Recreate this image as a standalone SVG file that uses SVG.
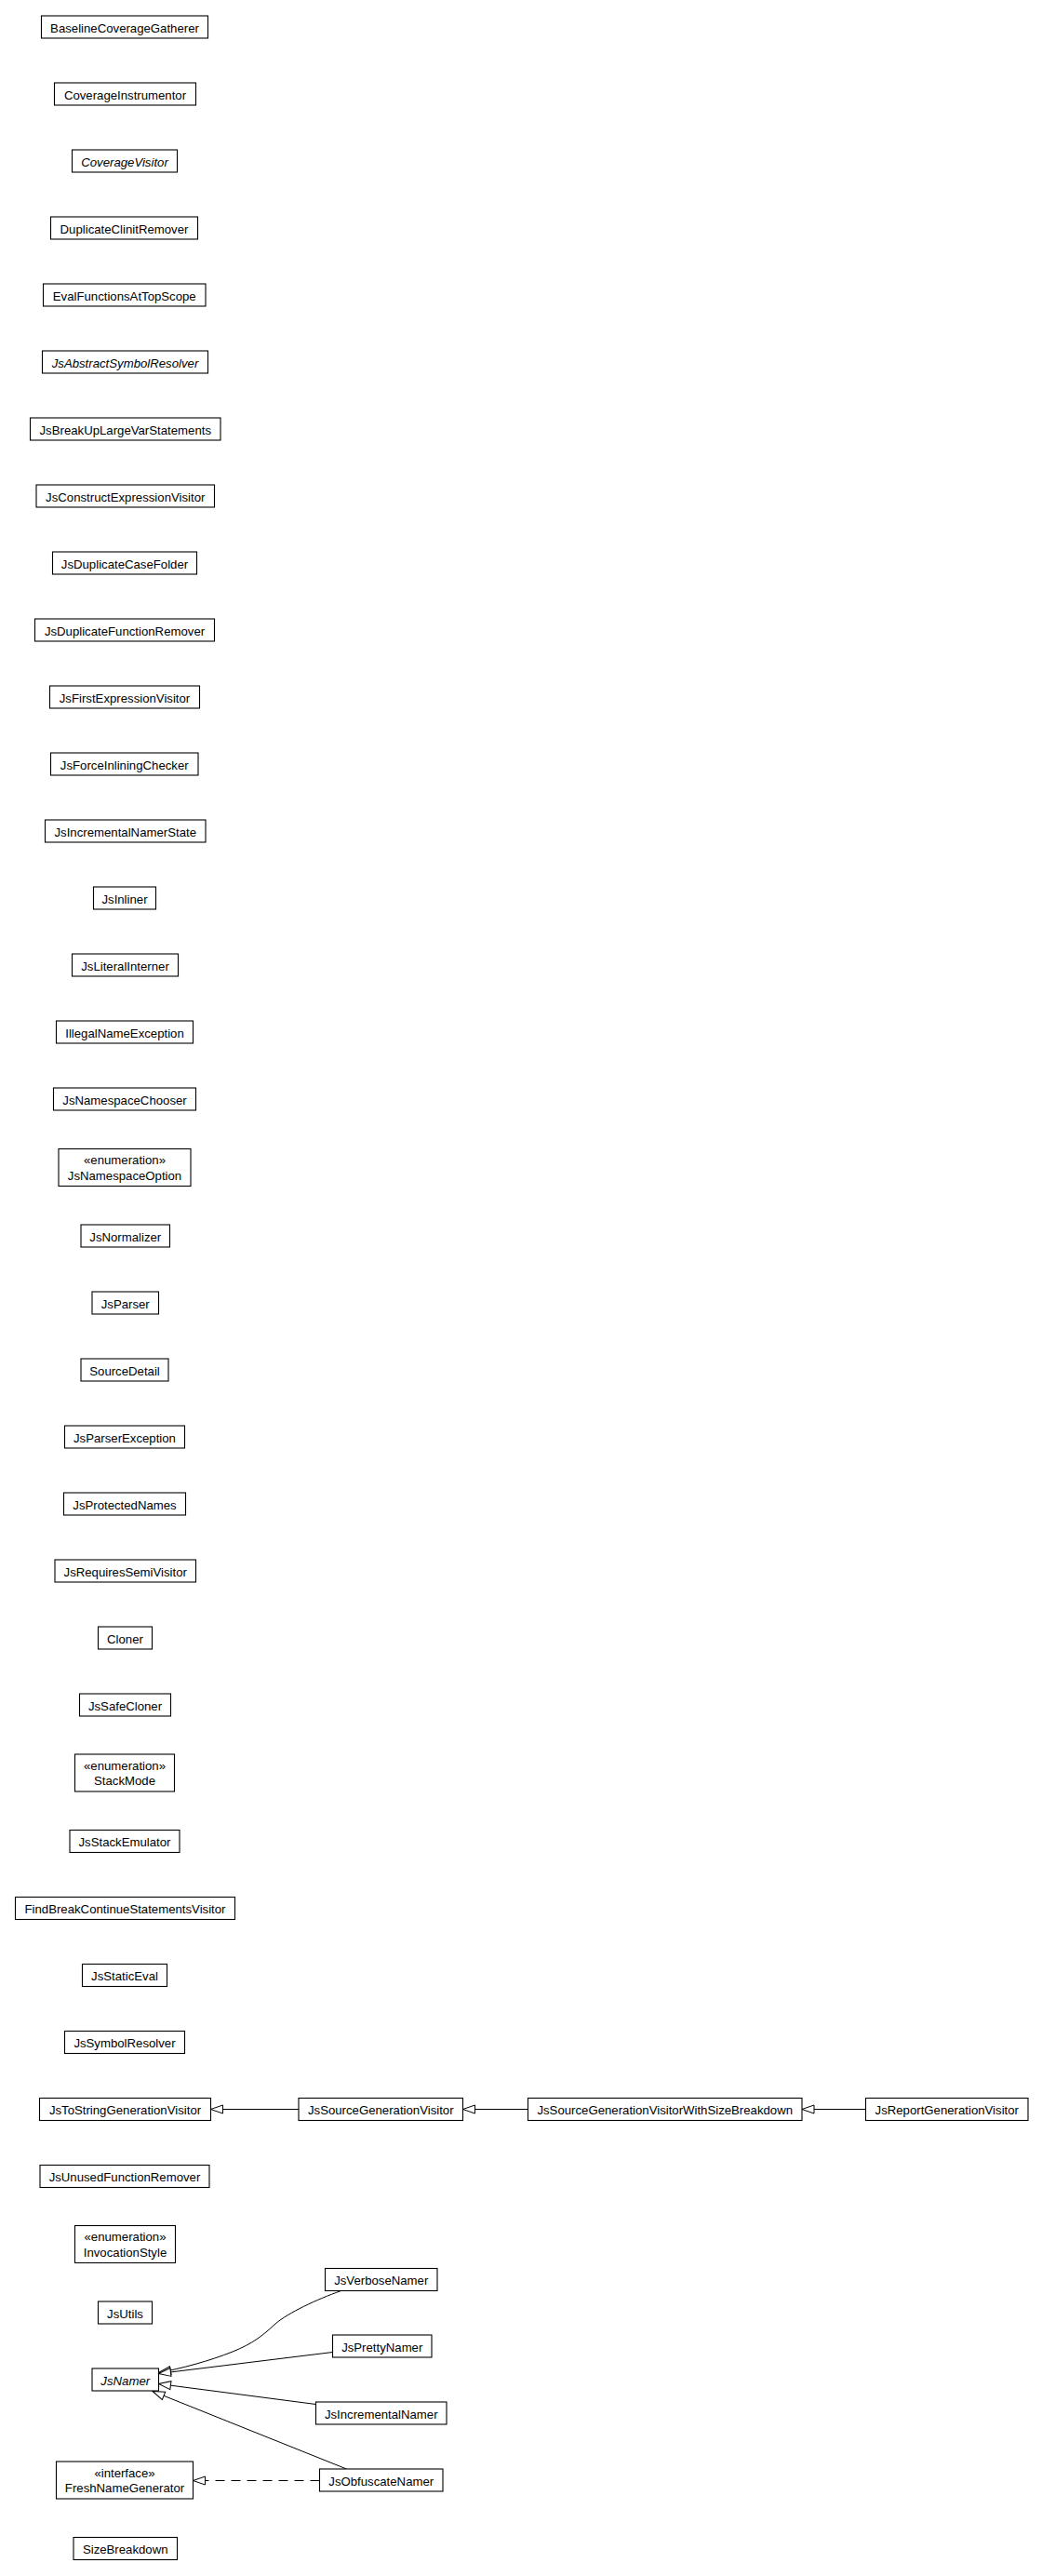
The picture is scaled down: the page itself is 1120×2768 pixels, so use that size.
<svg xmlns="http://www.w3.org/2000/svg" width="1120" height="2768" viewBox="0 0 1120 2768">
<style>
.n rect{fill:#fff;stroke:#000;stroke-width:1.1}
.n text{font-family:"Liberation Sans",Arial,Helvetica,sans-serif;font-size:13.2px;text-anchor:middle;fill:#000}
.n text.i{font-style:italic}
.e{fill:none;stroke:#000;stroke-width:1}
.d{stroke-dasharray:10,7}
</style>
<defs>
<marker id="tri" markerUnits="userSpaceOnUse" markerWidth="16" markerHeight="12" refX="13" refY="4.5" orient="auto" overflow="visible">
<path d="M0,0 L13,4.5 L0,9 Z" fill="#fff" stroke="#000" stroke-width="1" stroke-dasharray="none"/>
</marker>
</defs>
<rect width="1120" height="2768" fill="#fff"/>
<g id="edges">
<path class="e" d="M321,2266.5 L226.5,2266.5" marker-end="url(#tri)"/>
<path class="e" d="M567.5,2266.5 L497.5,2266.5" marker-end="url(#tri)"/>
<path class="e" d="M930.5,2266.5 L862,2266.5" marker-end="url(#tri)"/>
<path class="e" d="M366.7,2461.5 C340,2471 310,2485 296,2497 C282,2510 272,2518 250,2527 C225,2537 195,2545 170.5,2549.5" marker-end="url(#tri)"/>
<path class="e" d="M357.5,2527.5 L170.5,2550.5" marker-end="url(#tri)"/>
<path class="e" d="M339.5,2583.5 L170.5,2561.5" marker-end="url(#tri)"/>
<path class="e" d="M372.5,2653 L164,2569.5" marker-end="url(#tri)"/>
<path class="e d" d="M343.5,2665.5 L207.5,2665.5" marker-end="url(#tri)"/>
</g>
<g id="BaselineCoverageGatherer" class="n"><rect x="44.5" y="17" width="179" height="24"/><text x="134" y="34.5">BaselineCoverageGatherer</text></g>
<g id="CoverageInstrumentor" class="n"><rect x="58.5" y="89" width="152" height="24"/><text x="134.5" y="106.5">CoverageInstrumentor</text></g>
<g id="CoverageVisitor" class="n"><rect x="77.5" y="161" width="113" height="24"/><text class="i" x="134" y="178.5">CoverageVisitor</text></g>
<g id="DuplicateClinitRemover" class="n"><rect x="54.5" y="233" width="158" height="24"/><text x="133.5" y="250.5">DuplicateClinitRemover</text></g>
<g id="EvalFunctionsAtTopScope" class="n"><rect x="46.5" y="305" width="174.5" height="24"/><text x="133.75" y="322.5">EvalFunctionsAtTopScope</text></g>
<g id="JsAbstractSymbolResolver" class="n"><rect x="45.5" y="377" width="178" height="24"/><text class="i" x="134.5" y="394.5">JsAbstractSymbolResolver</text></g>
<g id="JsBreakUpLargeVarStatements" class="n"><rect x="32.5" y="449" width="204.5" height="24"/><text x="134.75" y="466.5">JsBreakUpLargeVarStatements</text></g>
<g id="JsConstructExpressionVisitor" class="n"><rect x="39" y="521" width="191.5" height="24"/><text x="134.75" y="538.5">JsConstructExpressionVisitor</text></g>
<g id="JsDuplicateCaseFolder" class="n"><rect x="56.5" y="593" width="155" height="24"/><text x="134" y="610.5">JsDuplicateCaseFolder</text></g>
<g id="JsDuplicateFunctionRemover" class="n"><rect x="37.5" y="665" width="193" height="24"/><text x="134" y="682.5">JsDuplicateFunctionRemover</text></g>
<g id="JsFirstExpressionVisitor" class="n"><rect x="53.5" y="737" width="161" height="24"/><text x="134" y="754.5">JsFirstExpressionVisitor</text></g>
<g id="JsForceInliningChecker" class="n"><rect x="54.5" y="809" width="158.5" height="24"/><text x="133.75" y="826.5">JsForceInliningChecker</text></g>
<g id="JsIncrementalNamerState" class="n"><rect x="48.5" y="881" width="172.5" height="24"/><text x="134.75" y="898.5">JsIncrementalNamerState</text></g>
<g id="JsInliner" class="n"><rect x="100.5" y="953" width="67" height="24"/><text x="134" y="970.5">JsInliner</text></g>
<g id="JsLiteralInterner" class="n"><rect x="77.5" y="1025" width="114" height="24"/><text x="134.5" y="1042.5">JsLiteralInterner</text></g>
<g id="IllegalNameException" class="n"><rect x="60.5" y="1097" width="147" height="24"/><text x="134" y="1114.5">IllegalNameException</text></g>
<g id="JsNamespaceChooser" class="n"><rect x="57.5" y="1169" width="153" height="24"/><text x="134" y="1186.5">JsNamespaceChooser</text></g>
<g id="JsNamespaceOption" class="n"><rect x="63" y="1234.5" width="142" height="40"/><text x="134" y="1251">«enumeration»</text><text x="134" y="1267.5">JsNamespaceOption</text></g>
<g id="JsNormalizer" class="n"><rect x="87" y="1316" width="95.5" height="24"/><text x="134.75" y="1333.5">JsNormalizer</text></g>
<g id="JsParser" class="n"><rect x="99" y="1388" width="71.5" height="24"/><text x="134.75" y="1405.5">JsParser</text></g>
<g id="SourceDetail" class="n"><rect x="87" y="1460" width="94" height="24"/><text x="134" y="1477.5">SourceDetail</text></g>
<g id="JsParserException" class="n"><rect x="69.5" y="1532" width="129" height="24"/><text x="134" y="1549.5">JsParserException</text></g>
<g id="JsProtectedNames" class="n"><rect x="68.5" y="1604" width="131" height="24"/><text x="134" y="1621.5">JsProtectedNames</text></g>
<g id="JsRequiresSemiVisitor" class="n"><rect x="59" y="1676" width="151.5" height="24"/><text x="134.75" y="1693.5">JsRequiresSemiVisitor</text></g>
<g id="Cloner" class="n"><rect x="105.5" y="1748" width="58" height="24"/><text x="134.5" y="1765.5">Cloner</text></g>
<g id="JsSafeCloner" class="n"><rect x="85.5" y="1820" width="98" height="24"/><text x="134.5" y="1837.5">JsSafeCloner</text></g>
<g id="StackMode" class="n"><rect x="80.5" y="1885" width="107" height="40"/><text x="134" y="1901.5">«enumeration»</text><text x="134" y="1918">StackMode</text></g>
<g id="JsStackEmulator" class="n"><rect x="75" y="1966.5" width="118" height="24"/><text x="134" y="1984">JsStackEmulator</text></g>
<g id="FindBreakContinueStatementsVisitor" class="n"><rect x="16.5" y="2038.5" width="236" height="24"/><text x="134.5" y="2056">FindBreakContinueStatementsVisitor</text></g>
<g id="JsStaticEval" class="n"><rect x="88.5" y="2110.5" width="91" height="24"/><text x="134" y="2128">JsStaticEval</text></g>
<g id="JsSymbolResolver" class="n"><rect x="69.5" y="2182.5" width="129" height="24"/><text x="134" y="2200">JsSymbolResolver</text></g>
<g id="JsToStringGenerationVisitor" class="n"><rect x="42.5" y="2254.5" width="184" height="24"/><text x="134.5" y="2272">JsToStringGenerationVisitor</text></g>
<g id="JsSourceGenerationVisitor" class="n"><rect x="321" y="2254.5" width="176.5" height="24"/><text x="409.25" y="2272">JsSourceGenerationVisitor</text></g>
<g id="JsSourceGenerationVisitorWithSizeBreakdown" class="n"><rect x="567.5" y="2254.5" width="294.5" height="24"/><text x="714.75" y="2272">JsSourceGenerationVisitorWithSizeBreakdown</text></g>
<g id="JsReportGenerationVisitor" class="n"><rect x="930.5" y="2254.5" width="174.5" height="24"/><text x="1017.75" y="2272">JsReportGenerationVisitor</text></g>
<g id="JsUnusedFunctionRemover" class="n"><rect x="43" y="2326.5" width="182" height="24"/><text x="134" y="2344">JsUnusedFunctionRemover</text></g>
<g id="InvocationStyle" class="n"><rect x="80.5" y="2391.5" width="108" height="40"/><text x="134.5" y="2408">«enumeration»</text><text x="134.5" y="2424.5">InvocationStyle</text></g>
<g id="JsVerboseNamer" class="n"><rect x="349.5" y="2437.5" width="120.5" height="24"/><text x="409.75" y="2455">JsVerboseNamer</text></g>
<g id="JsUtils" class="n"><rect x="105.5" y="2473" width="58" height="24"/><text x="134.5" y="2490.5">JsUtils</text></g>
<g id="JsPrettyNamer" class="n"><rect x="357.5" y="2509" width="106.5" height="24"/><text x="410.75" y="2526.5">JsPrettyNamer</text></g>
<g id="JsNamer" class="n"><rect x="99" y="2545" width="71.5" height="24"/><text class="i" x="134.75" y="2562.5">JsNamer</text></g>
<g id="JsIncrementalNamer" class="n"><rect x="339.5" y="2581" width="140.5" height="24"/><text x="409.75" y="2598.5">JsIncrementalNamer</text></g>
<g id="FreshNameGenerator" class="n"><rect x="60.5" y="2645" width="147" height="40"/><text x="134" y="2661.5">«interface»</text><text x="134" y="2678">FreshNameGenerator</text></g>
<g id="JsObfuscateNamer" class="n"><rect x="343.5" y="2653" width="132.5" height="24"/><text x="409.75" y="2670.5">JsObfuscateNamer</text></g>
<g id="SizeBreakdown" class="n"><rect x="79" y="2726.5" width="111.5" height="24"/><text x="134.75" y="2744">SizeBreakdown</text></g>
</svg>
